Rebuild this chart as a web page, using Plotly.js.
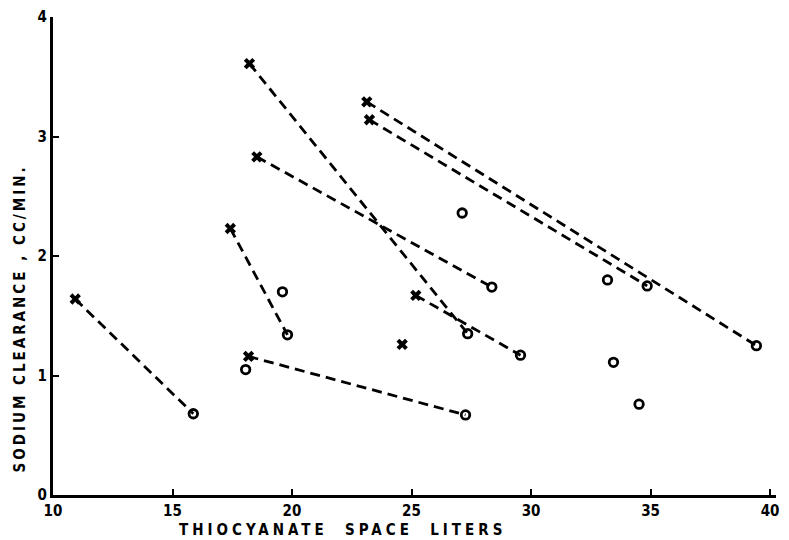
<!DOCTYPE html>
<html>
<head>
<meta charset="utf-8">
<script src="https://cdn.plot.ly/plotly-3.0.1.min.js"></script>
<style>html,body{margin:0;padding:0;background:#fff}#chart{width:789px;height:540px}</style>
</head>
<body>
<div id="chart"></div>
<script>
// Paired measurements: "x" = first determination, "o" = second determination
var pairX1 = [10.93, 17.42, 18.18, 18.22, 18.53, 25.18, 23.13, 23.24];
var pairY1 = [1.64, 2.23, 1.16, 3.61, 2.83, 1.67, 3.29, 3.14];
var pairX2 = [15.87, 19.81, 27.26, 27.35, 28.36, 29.56, 39.43, 34.86];
var pairY2 = [0.68, 1.34, 0.67, 1.35, 1.74, 1.17, 1.25, 1.75];
// Unpaired points
var soloCrossX = [24.61];
var soloCrossY = [1.26];
var soloCircleX = [19.6, 18.06, 27.12, 33.2, 33.45, 34.52];
var soloCircleY = [1.70, 1.05, 2.36, 1.80, 1.11, 0.76];
var xTicks = [10, 15, 20, 25, 30, 35, 40];
var yTicks = [0, 1, 2, 3, 4];

var lx = [], ly = [];
for (var i = 0; i < pairX1.length; i++) {
  lx.push(pairX1[i], pairX2[i], null);
  ly.push(pairY1[i], pairY2[i], null);
}

var traces = [
  {x: lx, y: ly, mode: 'lines', type: 'scatter', connectgaps: false,
   line: {color: '#000', width: 2.8, dash: '10px,6px'}, hoverinfo: 'skip'},
  {x: pairX1.concat(soloCrossX), y: pairY1.concat(soloCrossY), mode: 'markers', type: 'scatter',
   marker: {symbol: 'x', size: 10, color: '#000', line: {width: 0}}},
  {x: pairX2.concat(soloCircleX), y: pairY2.concat(soloCircleY), mode: 'markers', type: 'scatter',
   marker: {symbol: 'circle-open', size: 8.5, color: '#000', line: {width: 2.8, color: '#000'}}}
];

var fam = '"DejaVu Sans Condensed", "DejaVu Sans", sans-serif';
var tickFont = {family: fam, size: 15, color: '#000'};
function bold(v) { return '<b>' + v + '</b>'; }
var layout = {
  width: 789, height: 540,
  margin: {l: 53, r: 13, t: 17, b: 45},
  paper_bgcolor: '#fff', plot_bgcolor: '#fff',
  showlegend: false,
  xaxis: {
    range: [10, 40.25], tickvals: xTicks, ticktext: xTicks.map(bold),
    showgrid: false, zeroline: false, showline: true, linecolor: '#000', linewidth: 3,
    ticks: 'inside', ticklen: 6, tickwidth: 2, tickcolor: '#000',
    tickfont: tickFont, ticklabelstandoff: 0
  },
  yaxis: {
    range: [0, 4], tickvals: yTicks, ticktext: yTicks.map(bold),
    showgrid: false, zeroline: false, showline: true, linecolor: '#000', linewidth: 3,
    ticks: 'inside', ticklen: 6, tickwidth: 2, tickcolor: '#000',
    tickfont: tickFont, ticklabelstandoff: 0
  },
  annotations: [
    {text: '<b><span style="letter-spacing:4px">THIOCYANATE  SPACE  LITERS</span></b>', xref: 'paper', yref: 'paper',
     x: 0.40, y: -0.0735, xanchor: 'center', yanchor: 'middle', showarrow: false, borderpad: 0,
     font: {family: fam, size: 15, color: '#000'}},
    {text: '<b><span style="letter-spacing:3px">SODIUM CLEARANCE , CC/MIN.</span></b>', xref: 'paper', yref: 'paper',
     x: -0.030, y: 0.37, xanchor: 'right', yanchor: 'middle', textangle: -90, showarrow: false,
     font: {family: fam, size: 15, color: '#000'}}
  ]
};

Plotly.newPlot('chart', traces, layout, {displayModeBar: false, staticPlot: true});
</script>
</body>
</html>
